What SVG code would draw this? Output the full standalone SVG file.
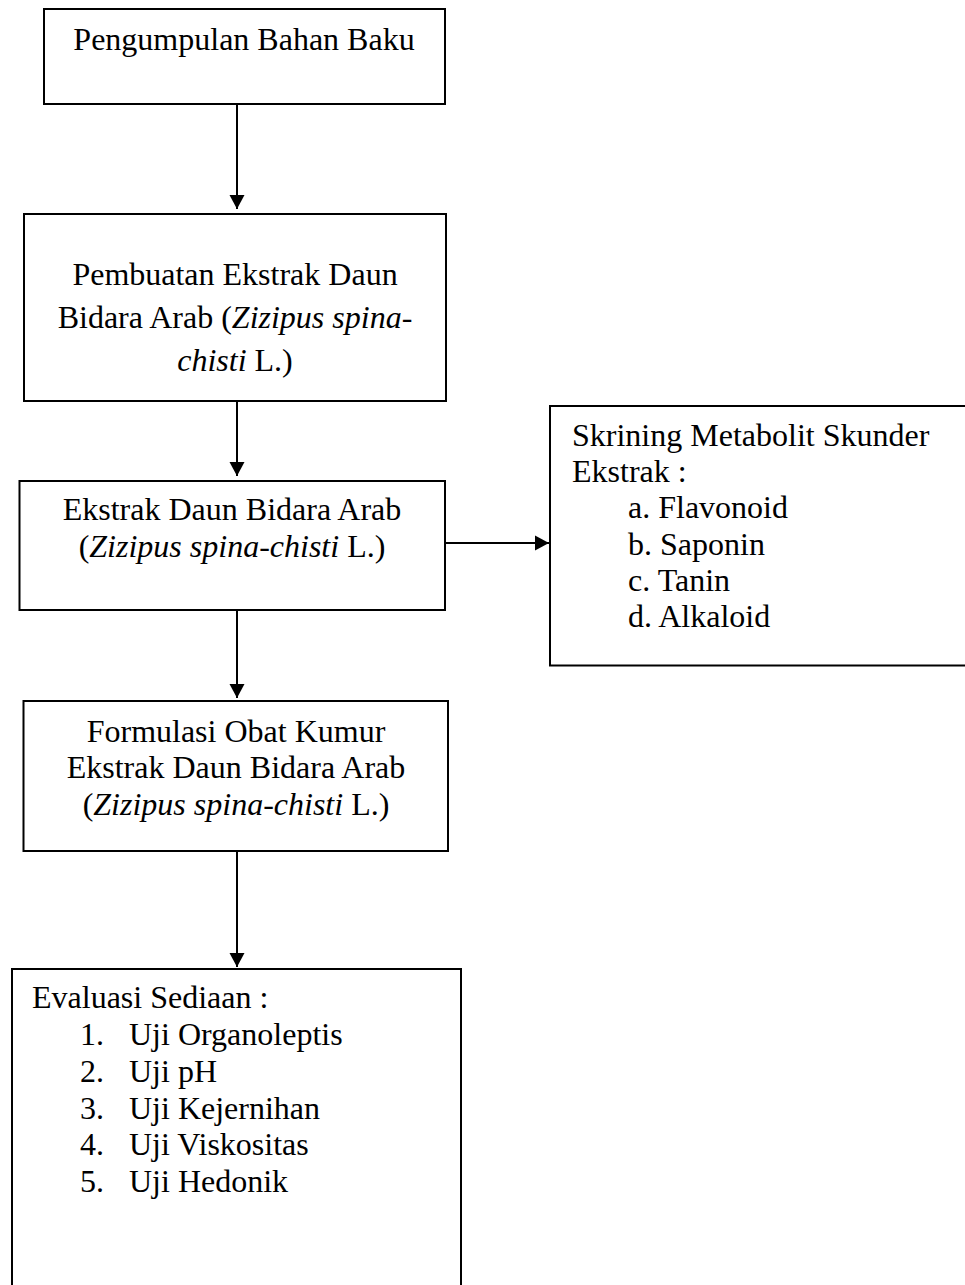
<svg xmlns="http://www.w3.org/2000/svg" width="965" height="1285" viewBox="0 0 965 1285">
<style>
.box{fill:#fff;stroke:#000;stroke-width:2}
.t{font-family:"Liberation Serif","Times New Roman",serif;font-size:32px;fill:#000}
.c{text-anchor:middle}
.i{font-style:italic}
.conn line{stroke:#000;stroke-width:2}
</style>
<defs>
<marker id="arr" markerUnits="userSpaceOnUse" markerWidth="14" markerHeight="16" refX="14" refY="8" orient="auto">
<path d="M0,0.5 L14,8 L0,15.5 z" fill="#000"/>
</marker>
</defs>
<rect width="965" height="1285" fill="#fff"/>
<g id="n1">
<rect class="box" x="44" y="9" width="401" height="95"/>
<text class="t c" x="244" y="50">Pengumpulan Bahan Baku</text>
</g>
<g id="n2">
<rect class="box" x="24" y="214" width="422" height="187"/>
<text class="t c" x="235" y="285">Pembuatan Ekstrak Daun</text>
<text class="t c" x="235" y="328">Bidara Arab (<tspan class="i">Zizipus spina-</tspan></text>
<text class="t c" x="235" y="371"><tspan class="i">chisti</tspan> L.)</text>
</g>
<g id="n3">
<rect class="box" x="19.5" y="481" width="425.5" height="129"/>
<text class="t c" x="232" y="520">Ekstrak Daun Bidara Arab</text>
<text class="t c" x="232" y="556.5">(<tspan class="i">Zizipus spina-chisti</tspan> L.)</text>
</g>
<g id="n4">
<rect class="box" x="23.5" y="701" width="424.5" height="150"/>
<text class="t c" x="236" y="741.5">Formulasi Obat Kumur</text>
<text class="t c" x="236" y="778">Ekstrak Daun Bidara Arab</text>
<text class="t c" x="236" y="815">(<tspan class="i">Zizipus spina-chisti</tspan> L.)</text>
</g>
<g id="n5">
<rect class="box" x="550" y="406" width="420" height="259.5"/>
<text class="t" x="572" y="445.7">Skrining Metabolit Skunder</text>
<text class="t" x="572" y="482">Ekstrak :</text>
<text class="t" x="628" y="518.3">a. Flavonoid</text>
<text class="t" x="628" y="554.6">b. Saponin</text>
<text class="t" x="628" y="591">c. Tanin</text>
<text class="t" x="628" y="627.3">d. Alkaloid</text>
</g>
<g id="n6">
<rect class="box" x="12" y="969" width="449" height="330"/>
<text class="t" x="32" y="1008">Evaluasi Sediaan :</text>
<text class="t" x="80" y="1045">1.</text><text class="t" x="129" y="1045">Uji Organoleptis</text>
<text class="t" x="80" y="1082">2.</text><text class="t" x="129" y="1082">Uji pH</text>
<text class="t" x="80" y="1119">3.</text><text class="t" x="129" y="1119">Uji Kejernihan</text>
<text class="t" x="80" y="1155">4.</text><text class="t" x="129" y="1155">Uji Viskositas</text>
<text class="t" x="80" y="1192">5.</text><text class="t" x="129" y="1192">Uji Hedonik</text>
</g>
<g id="connectors" class="conn">
<line x1="237" y1="104" x2="237" y2="209" marker-end="url(#arr)"/>
<line x1="237" y1="402" x2="237" y2="476" marker-end="url(#arr)"/>
<line x1="237" y1="611" x2="237" y2="698" marker-end="url(#arr)"/>
<line x1="237" y1="852" x2="237" y2="967" marker-end="url(#arr)"/>
<line x1="446" y1="543" x2="549" y2="543" marker-end="url(#arr)"/>
</g>
</svg>
